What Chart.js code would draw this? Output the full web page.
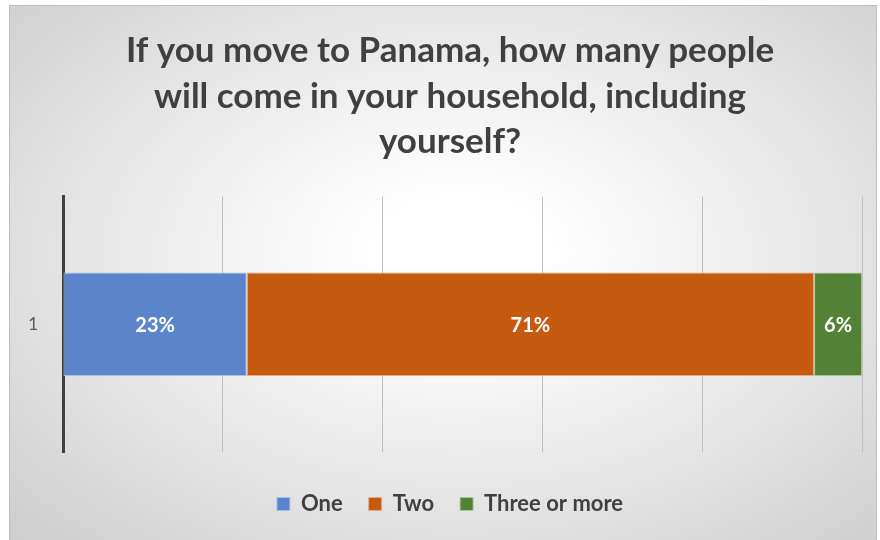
<!DOCTYPE html>
<html>
<head>
<meta charset="utf-8">
<script src="https://cdn.jsdelivr.net/npm/chart.js@4"></script>
<style>
  html, body { margin: 0; padding: 0; background: #ffffff; }
  #frame {
    position: absolute; left: 9px; top: 5px;
    width: 866px; height: 540px;
    border: 1px solid #bdbdbd;
    background: radial-gradient(ellipse at 52% 46%, #ffffff 12%, #f4f4f4 35%, #cdcdcd 100%);
  }
  canvas { display: block; }
</style>
</head>
<body>
<div id="frame"><canvas id="chart" width="866" height="540"></canvas></div>
<script>
// household size answers, one stacked bar
const categories = ['1']
const seriesNames = ['One', 'Two', 'Three or more']
const seriesValues = [[23], [71], [6]]
const seriesColors = ['#5b84ca', '#c55a11', '#538135']
const seriesBorders = ['#a9bfe6', '#eeaa80', '#a9c49a']
const xTicks = [0, 20, 40, 60, 80, 100]

const FONT = 'Lato, "Open Sans", sans-serif'

// white percentage text in the middle of each segment
const segmentLabels = {
  id: 'segmentLabels',
  afterDatasetsDraw(chart) {
    const ctx = chart.ctx
    ctx.save()
    ctx.fillStyle = '#ffffff'
    ctx.font = 'bold 20px ' + FONT
    ctx.textAlign = 'center'
    ctx.textBaseline = 'middle'
    chart.data.datasets.forEach((ds, i) => {
      const meta = chart.getDatasetMeta(i)
      meta.data.forEach((bar, j) => {
        const p = bar.getCenterPoint()
        ctx.fillText(ds.data[j] + '%', p.x, p.y + 1)
      })
    })
    ctx.restore()
  }
}

// let the category label sit in the left padding instead of being clipped
const widenYLabels = {
  id: 'widenYLabels',
  afterLayout(chart) {
    chart.scales.y.left = 0
  }
}

new Chart(document.getElementById('chart'), {
  type: 'bar',
  data: {
    labels: categories,
    datasets: seriesNames.map((name, i) => ({
      label: name,
      data: seriesValues[i],
      backgroundColor: seriesColors[i],
      borderColor: seriesBorders[i],
      borderWidth: 1,
      borderSkipped: false,
      categoryPercentage: 0.5,
      barPercentage: 0.81
    }))
  },
  options: {
    indexAxis: 'y',
    responsive: false,
    animation: false,
    layout: { padding: { left: 28, right: 14, top: 0, bottom: 21 } },
    scales: {
      x: {
        stacked: true,
        min: 0,
        max: 100,
        afterBuildTicks(scale) { scale.ticks = xTicks.map(v => ({ value: v })) },
        afterFit(scale) { scale.height = 15 },
        ticks: { display: false },
        grid: { color: '#bfbfbf', lineWidth: 1, drawTicks: false },
        border: { display: false }
      },
      y: {
        stacked: true,
        afterFit(scale) { scale.width = 25 },
        ticks: { color: '#595959', font: { family: FONT, size: 17 }, padding: 25 },
        grid: { display: false, drawTicks: false },
        border: { display: true, color: '#404040', width: 3 }
      }
    },
    plugins: {
      title: {
        display: true,
        text: ['If you move to Panama, how many people', 'will come in your household, including', 'yourself?'],
        color: '#404040',
        font: { family: FONT, size: 35, weight: 'bold', lineHeight: 1.3 },
        padding: { top: 22, bottom: 32 }
      },
      legend: {
        position: 'bottom',
        labels: {
          color: '#404040',
          boxWidth: 13,
          boxHeight: 13,
          padding: 26,
          font: { family: FONT, size: 22, weight: 'bold' }
        }
      },
      tooltip: { enabled: false }
    }
  },
  plugins: [segmentLabels, widenYLabels]
})
</script>
</body>
</html>
